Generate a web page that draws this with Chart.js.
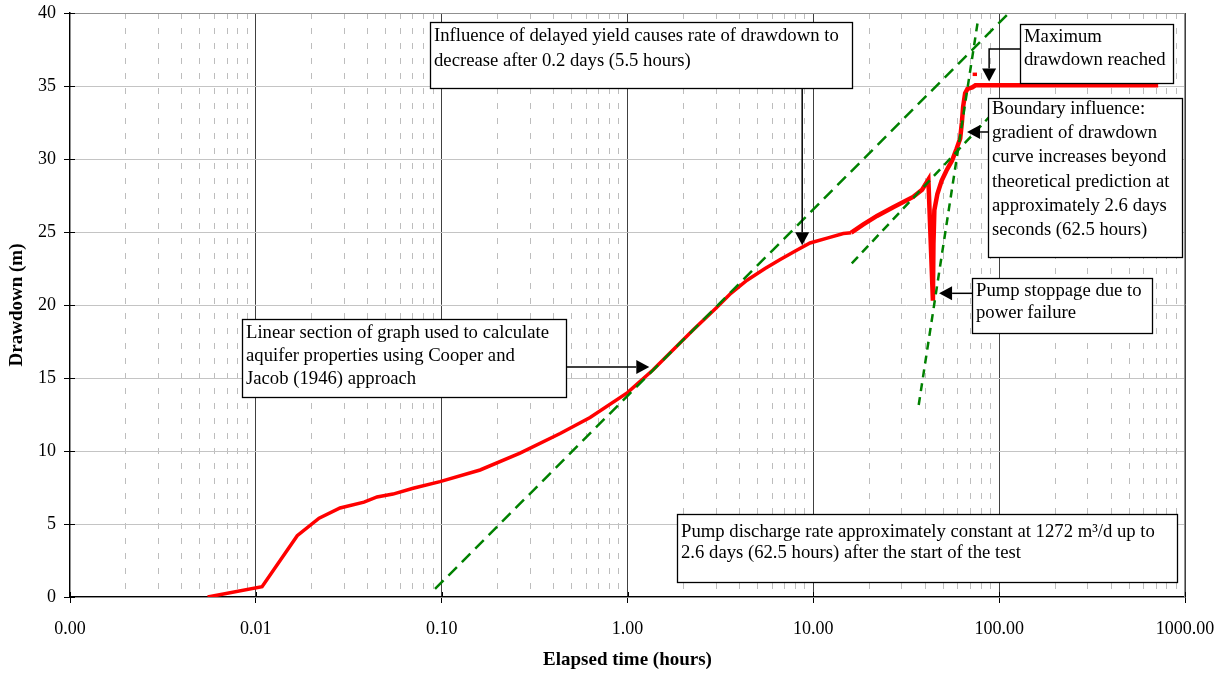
<!DOCTYPE html>
<html>
<head>
<meta charset="utf-8">
<script src="https://cdn.jsdelivr.net/npm/chart.js@4.4.1/dist/chart.umd.min.js"></script>
<style>
  html, body { margin: 0; padding: 0; background: #fff; }
  #wrap { width: 1225px; height: 675px; }
</style>
</head>
<body>
<div id="wrap"><canvas id="grafico" width="1225" height="675"></canvas></div>
<script>
const tiempo = [0.0055, 0.0108, 0.0167, 0.0219, 0.0284, 0.0382, 0.0449, 0.0547, 0.0702, 0.098,
  0.161, 0.264, 0.434, 0.629, 1.0, 1.37, 2.26, 3.0, 3.6, 4.4, 5.5, 6.6, 8.0, 9.6, 12.0, 14.5,
  16.0, 18.5, 22.0, 26.9, 30.5, 34.4, 38.5, 41.6, 44.0, 44.3, 44.8, 46.5, 49.0, 52.0, 55.8,
  59.0, 61.7, 63.0, 64.0, 65.6, 67.5, 71.6, 74.5, 717];
const abatimiento = [0, 0.7, 4.2, 5.4, 6.1, 6.5, 6.85, 7.05, 7.45, 7.9,
  8.7, 9.85, 11.2, 12.3, 14.0, 15.55, 18.3, 19.8, 20.8, 21.7, 22.5, 23.1, 23.7, 24.25, 24.6, 24.9,
  24.95, 25.5, 26.1, 26.7, 27.05, 27.4, 27.9, 28.6, 20.3, 24.2, 26.5, 27.6, 28.5, 29.2, 29.9,
  30.7, 31.4, 32.5, 33.6, 34.5, 34.8, 34.9, 35.05, 35.05];

// tramo corto de abatimiento maximo
const tiempoMax = [72.0, 76.0];
const abatMax = [35.8, 35.8];

// rectas de ajuste (Cooper-Jacob, rendimiento diferido, frontera)
const rectaCJ_t = [0.0921, 110];
const rectaCJ_s = [0.55, 39.85];
const rectaRet_t = [16.1, 100];
const rectaRet_s = [22.85, 33.6];
const rectaFront_t = [36.9, 76.9];
const rectaFront_s = [13.15, 39.5];

// marcas del eje x (decadas) y eje y
const decadas = [0.001, 0.01, 0.1, 1, 10, 100, 1000];
const marcasY = [0, 5, 10, 15, 20, 25, 30, 35, 40];

const serif = '"Liberation Serif", "Times New Roman", serif';

function puntos(xs, ys) {
  return xs.map((x, i) => ({ x: x, y: ys[i] }));
}

function esDecada(v) {
  const l = Math.log10(v);
  return Math.abs(l - Math.round(l)) < 1e-6;
}

// marcas 1..9 de cada decada para la rejilla secundaria
const marcasX = [];
for (let d = 0; d < decadas.length - 1; d++) {
  for (let k = 1; k <= 9; k++) {
    marcasX.push(parseFloat((k * decadas[d]).toPrecision(4)));
  }
}
marcasX.push(decadas[decadas.length - 1]);

// Cajas de texto con sus flechas
const notas = [
  { caja: [430, 22, 422, 66], primera: 14, interlinea: 25,
    texto: ["Influence of delayed yield causes rate of drawdown to", "decrease after 0.2 days (5.5 hours)"],
    punta: [8.71, 24.1], desde: [null, 88] },
  { caja: [1020, 24, 153, 59], primera: 13, interlinea: 23,
    texto: ["Maximum", "drawdown reached"],
    punta: [88.3, 35.3], desde: [1020, 49] },
  { caja: [988, 98, 194, 159], primera: 11, interlinea: 24.2,
    texto: ["Boundary influence:", "gradient of drawdown", "curve increases beyond", "theoretical prediction at", "approximately 2.6 days", "seconds (62.5 hours)"],
    punta: [67.2, 31.85], desde: [988, null] },
  { caja: [972, 278, 180, 55], primera: 13, interlinea: 22,
    texto: ["Pump stoppage due to", "power failure"],
    punta: [47.5, 20.8], desde: [972, null] },
  { caja: [242, 319, 324, 78], primera: 14, interlinea: 23,
    texto: ["Linear section of graph used to calculate", "aquifer properties using Cooper and", "Jacob (1946) approach"],
    punta: [1.31, 15.75], desde: [566, null] },
  { caja: [677, 514, 500, 68], primera: 18, interlinea: 21,
    texto: ["Pump discharge rate approximately constant at 1272 m\u00B3/d up to", "2.6 days (62.5 hours) after the start of the test"],
    punta: null }
];

const pluginNotas = {
  id: "notas",
  beforeDatasetsDraw(chart) {
    const { ctx, chartArea: a } = chart;
    ctx.save();
    ctx.strokeStyle = "#909090";
    ctx.lineWidth = 1;
    ctx.strokeRect(a.left + 0.5, a.top + 0.5, a.right - a.left - 1, a.bottom - a.top);
    ctx.restore();
  },
  afterDraw(chart) {
    const { ctx, chartArea: a } = chart;
    const sx = chart.scales.x, sy = chart.scales.y;

    // marcas que cruzan los ejes
    ctx.save();
    ctx.strokeStyle = "#000";
    ctx.lineWidth = 1;
    ctx.beginPath();
    decadas.forEach(v => {
      const px = Math.round(sx.getPixelForValue(v)) + 0.5;
      ctx.moveTo(px, a.bottom);
      ctx.lineTo(px, a.bottom - 5);
    });
    marcasY.forEach(v => {
      const py = Math.round(sy.getPixelForValue(v)) + 0.5;
      ctx.moveTo(a.left, py);
      ctx.lineTo(a.left + 5, py);
    });
    ctx.stroke();
    ctx.restore();

    notas.forEach(n => {
      const [bx, by, bw, bh] = n.caja;
      ctx.save();
      ctx.fillStyle = "#fff";
      ctx.fillRect(bx, by, bw, bh);
      ctx.strokeStyle = "#000";
      ctx.lineWidth = 1.3;
      ctx.strokeRect(bx + 0.5, by + 0.5, bw, bh);
      ctx.fillStyle = "#000";
      ctx.font = "18.7px " + serif;
      ctx.textBaseline = "middle";
      ctx.textAlign = "left";
      n.texto.forEach((t, i) => {
        ctx.fillText(t, bx + 4, by + n.primera + i * n.interlinea);
      });

      if (n.punta) {
        const tx = sx.getPixelForValue(n.punta[0]);
        const ty = sy.getPixelForValue(n.punta[1]);
        const x0 = n.desde[0] === null ? tx : n.desde[0];
        const y0 = n.desde[1] === null ? ty : n.desde[1];
        const ruta = [[x0, y0]];
        if (x0 !== tx && y0 !== ty) ruta.push([tx, y0]);
        ruta.push([tx, ty]);
        const ant = ruta[ruta.length - 2];
        const ang = Math.atan2(ty - ant[1], tx - ant[0]);
        const largo = 13, medio = 7;
        const bxp = tx - largo * Math.cos(ang), byp = ty - largo * Math.sin(ang);

        ctx.strokeStyle = "#000";
        ctx.lineWidth = 1.5;
        ctx.beginPath();
        ctx.moveTo(ruta[0][0], ruta[0][1]);
        for (let i = 1; i < ruta.length - 1; i++) ctx.lineTo(ruta[i][0], ruta[i][1]);
        ctx.lineTo(bxp, byp);
        ctx.stroke();

        ctx.fillStyle = "#000";
        ctx.beginPath();
        ctx.moveTo(tx, ty);
        ctx.lineTo(bxp + medio * Math.sin(ang), byp - medio * Math.cos(ang));
        ctx.lineTo(bxp - medio * Math.sin(ang), byp + medio * Math.cos(ang));
        ctx.closePath();
        ctx.fill();
      }
      ctx.restore();
    });
  }
};

const verde = "#008000";
const rojo = "#ff0000";

new Chart(document.getElementById("grafico").getContext("2d"), {
  type: "scatter",
  data: {
    datasets: [
      {
        label: "Drawdown",
        data: puntos(tiempo, abatimiento),
        showLine: true,
        borderColor: rojo,
        borderWidth: 3.5,
        pointRadius: 0,
        order: 3,
        segment: {
          borderWidth: c => c.p0.parsed.x > 15 ? 4.5 : 3.5
        }
      },
      {
        label: "Max",
        data: puntos(tiempoMax, abatMax),
        showLine: true,
        borderColor: rojo,
        borderWidth: 3.5,
        pointRadius: 0,
        order: 3
      },
      {
        label: "Cooper-Jacob",
        data: puntos(rectaCJ_t, rectaCJ_s),
        showLine: true,
        borderColor: verde,
        borderWidth: 2.5,
        borderDash: [12, 7],
        pointRadius: 0,
        order: 1
      },
      {
        label: "Delayed yield",
        data: puntos(rectaRet_t, rectaRet_s),
        showLine: true,
        borderColor: verde,
        borderWidth: 2.5,
        borderDash: [9, 6],
        pointRadius: 0,
        order: 1
      },
      {
        label: "Boundary",
        data: puntos(rectaFront_t, rectaFront_s),
        showLine: true,
        borderColor: verde,
        borderWidth: 2.5,
        borderDash: [8, 6],
        pointRadius: 0,
        order: 1
      }
    ]
  },
  options: {
    responsive: false,
    animation: false,
    layout: { padding: { top: 13, right: 40, left: 0, bottom: 0 }, autoPadding: false },
    plugins: {
      legend: { display: false },
      tooltip: { enabled: false }
    },
    scales: {
      x: {
        type: "logarithmic",
        min: 0.001,
        max: 1000,
        afterBuildTicks: s => { s.ticks = marcasX.map(v => ({ value: v })); },
        afterFit: s => {
          s.height = 78;
          s.paddingLeft = 0;
          s.paddingRight = 0;
        },
        ticks: {
          autoSkip: false,
          maxRotation: 0,
          padding: 15,
          color: "#000",
          font: { family: serif, size: 18 },
          callback: v => esDecada(v) ? v.toFixed(2) : ""
        },
        grid: {
          color: c => (c.tick && esDecada(c.tick.value)) ? "#404040" : "#bdbdbd",
          lineWidth: 1,
          tickLength: 6,
          tickColor: c => (c.tick && esDecada(c.tick.value)) ? "#000" : "rgba(0,0,0,0)"
        },
        border: {
          color: "#000",
          width: 1.5,
          dash: c => (c.tick && !esDecada(c.tick.value)) ? [6, 9] : []
        },
        title: {
          display: true,
          text: "Elapsed time (hours)",
          color: "#000",
          font: { family: serif, size: 19, weight: "bold" },
          padding: { top: 0, bottom: 4 }
        }
      },
      y: {
        min: 0,
        max: 40,
        afterFit: s => {
          s.width = 70;
          s.paddingTop = 0;
          s.paddingBottom = 0;
        },
        ticks: {
          stepSize: 5,
          padding: 8,
          color: "#000",
          font: { family: serif, size: 18 }
        },
        grid: {
          color: "#c4c4c4",
          lineWidth: 1,
          tickLength: 6,
          tickColor: "#000"
        },
        border: { color: "#000", width: 1.5 },
        title: {
          display: true,
          text: "Drawdown (m)",
          color: "#000",
          font: { family: serif, size: 19, weight: "bold" },
          padding: { top: 6, bottom: 0 }
        }
      }
    }
  },
  plugins: [pluginNotas]
});
</script>
</body>
</html>
